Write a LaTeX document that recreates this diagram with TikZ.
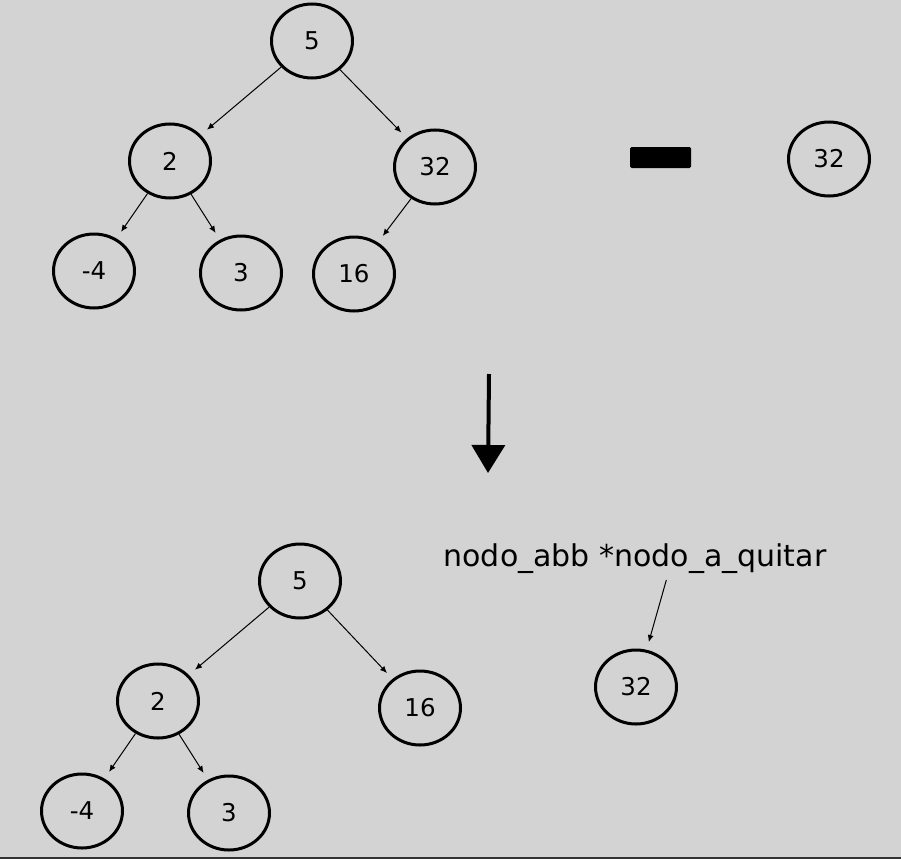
\documentclass[tikz,border=0pt]{standalone}
\usepackage{fontspec}
\setmainfont{DejaVu Sans}
\usetikzlibrary{shapes.geometric,arrows.meta}
\definecolor{fondo}{RGB}{211,211,211}
\definecolor{borde}{RGB}{51,51,51}
\tikzset{
  nodo/.style={ellipse, draw, line width=3pt, minimum width=81pt,
    minimum height=74pt, inner sep=0pt, font=\fontsize{24.5}{28}\selectfont},
  flecha/.style={line width=1pt, -{Latex[length=7pt,width=6pt]},
    shorten >=8pt},
  gruesa/.style={line width=4pt, -{Triangle[length=28pt,width=33pt]}}
}
\begin{document}
\begin{tikzpicture}[x=1pt, y=-1pt]
  \fill[fondo] (0, 0) rectangle (901, 859);
  \useasboundingbox (0, 0) rectangle (901, 859);
  \fill[borde] (0, 856.5) rectangle (901, 859);
  % arbol de arriba
  \node[nodo] (a5) at (312, 41) {5};
  \node[nodo] (a2) at (170, 161) {2};
  \node[nodo] (a32) at (435, 167) {32};
  \node[nodo] (am4) at (94, 271) {-4};
  \node[nodo] (a3) at (241, 273) {3};
  \node[nodo] (a16) at (354, 274) {16};
  \foreach \p/\h in {a5/a2, a5/a32, a2/am4, a2/a3, a32/a16} {
    \draw[flecha] (\p) -- (\h);
  }
  % menos 32
  \fill[rounded corners=1.5pt] (630, 147) rectangle (691, 168);
  \node[nodo] (r32) at (829, 159) {32};
  % paso
  \coordinate (ini) at (489, 374);
  \coordinate (fin) at (488, 473);
  \draw[gruesa] (ini) -- (fin);
  % arbol de abajo
  \node[nodo] (b5) at (300, 581) {5};
  \node[nodo] (b2) at (158, 701) {2};
  \node[nodo] (b16) at (420, 708) {16};
  \node[nodo] (bm4) at (82, 811) {-4};
  \node[nodo] (b3) at (229, 813) {3};
  \foreach \p/\h in {b5/b2, b5/b16, b2/bm4, b2/b3} {
    \draw[flecha] (\p) -- (\h);
  }
  % nodo quitado
  \node[font=\fontsize{30}{36}\selectfont, inner sep=0pt] (etiq) at (635, 559)
    {nodo\_abb *nodo\_a\_quitar};
  \node[nodo] (q32) at (636, 687) {32};
  \draw[flecha, shorten <=6pt] ([xshift=33pt]etiq.south) -- (q32);
\end{tikzpicture}
\end{document}
